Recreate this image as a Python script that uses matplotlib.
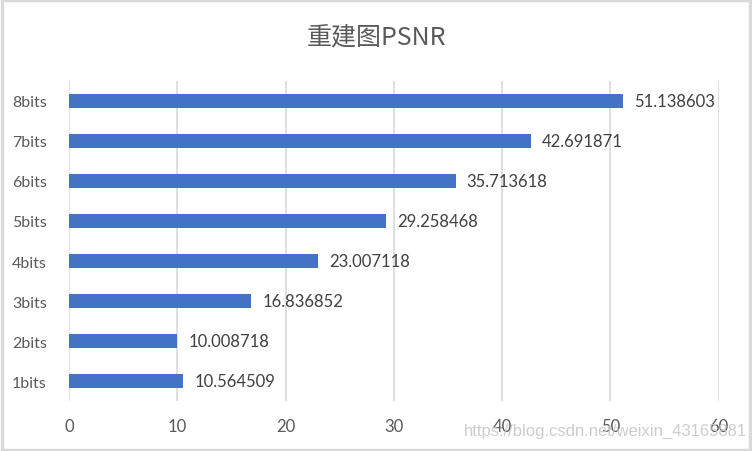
import matplotlib

matplotlib.use("Agg")
import matplotlib.pyplot as plt
from matplotlib.patches import Rectangle

categories = ["1bits", "2bits", "3bits", "4bits", "5bits", "6bits", "7bits", "8bits"]
psnr = [10.564509, 10.008718, 16.836852, 23.007118, 29.258468, 35.713618, 42.691871, 51.138603]
labels = ["10.564509", "10.008718", "16.836852", "23.007118", "29.258468", "35.713618", "42.691871", "51.138603"]
xticks = [0, 10, 20, 30, 40, 50, 60]

plt.rcParams["font.family"] = ["Lato", "Noto Sans CJK SC", "DejaVu Sans"]

fig = plt.figure(figsize=(7.52, 4.52), dpi=100)
ax = fig.add_axes([0.0918, 0.1106, 0.864, 0.708])

ypos = range(len(categories))
ax.barh(ypos, psnr, height=0.35, color="#4472c4", zorder=3)
for y, v, s in zip(ypos, psnr, labels):
    ax.text(v + 1.0, y, s, va="center", ha="left", fontsize=12, color="#404040")

ax.set_xlim(0, 60)
ax.set_ylim(-0.5, len(categories) - 0.5)
ax.set_xticks(xticks)
ax.set_yticks(list(ypos))
ax.set_yticklabels(categories)
ax.tick_params(axis="x", length=0, labelsize=12, colors="#595959", pad=12)
ax.tick_params(axis="y", length=0, labelsize=11.5, colors="#595959", pad=16)
ax.grid(axis="x", color="#d9d9d9", linewidth=1.2, zorder=0)
for sp in ax.spines.values():
    sp.set_visible(False)

fig.text(0.5, 0.917, "重建图PSNR", ha="center", va="center", fontsize=18,
         color="#595959", family=["Noto Sans CJK SC", "DejaVu Sans"])
# faint CSDN watermark in the bottom-right corner, over the tick labels as in the source
fig.text(0.993, 0.045, "https://blog.csdn.net/weixin_43165881", ha="right", va="center",
         fontsize=12, color="#c8c8c8", alpha=0.9, family=["Liberation Sans"])

fig.patches.append(Rectangle((0.002, 0.003), 0.996, 0.994, transform=fig.transFigure,
                             fill=False, edgecolor="#d9d9d9", linewidth=2.5))

fig.savefig("out.png", dpi=100)
